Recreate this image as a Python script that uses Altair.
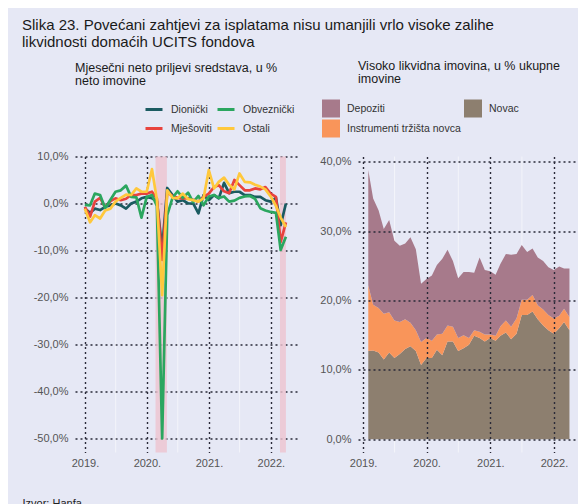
import altair as alt
import pandas as pd

FONT = "Liberation Sans"
BG = "#E6E8F5"

# ---------------- left panel: monthly net flows, % of net assets ----------------
flow_dates = pd.date_range("2018-12-31", periods=40, freq="ME")
dionicki = [-1.1, -2.0, -1.1, -1.4, -0.7, -0.4, 0.0, -0.4, -1.1, 0.0,
            0.4, 1.1, 1.4, 1.1, 0.5, -9.6, 3.3, 1.8, 0.4, 0.7,
            0.0, 0.0, -2.1, 1.8, 0.7, 1.8, 1.1, 4.4, 2.2, 2.5,
            2.5, 1.8, 1.8, 1.4, 1.4, 0.7, 0.4, 1.2, -4.6, 0.0]
obveznicki = [-0.3, -0.4, 2.1, 1.8, -1.0, 0.8, 2.5, 2.8, 3.8, 1.4,
              1.3, -3.0, 1.4, 1.8, -0.5, -50.0, -2.5, 1.2, 2.6, 1.2,
              2.3, 0.3, 1.6, -0.4, 1.5, 1.8, 1.2, 1.5, 0.4, 0.6,
              1.2, 1.5, 1.6, 1.0, -1.0, -1.5, -1.8, -2.0, -9.9, -7.1]
mjesoviti = [-0.7, -2.8, 0.4, 1.2, -0.8, 0.5, 1.1, 0.7, 1.0, 1.8,
             1.8, 2.1, 2.1, 2.5, 1.0, -12.0, 2.3, 1.6, 1.2, 1.1,
             1.1, 0.8, 0.4, 1.4, 2.1, 3.5, 3.9, 2.6, 2.2, 5.0,
             3.9, 2.8, 2.8, 3.2, 3.0, 3.5, 2.1, 1.4, -8.2, -4.0]
ostali = [-1.1, -4.0, -2.5, -3.2, -1.5, -1.1, 0.4, 1.2, 1.9, 1.8,
          3.2, 2.5, 2.5, 7.3, 0.8, -19.5, 2.8, 1.2, 1.1, 2.1,
          0.9, 0.7, 0.4, 1.1, 7.1, 3.2, 4.6, 5.5, 4.0, 3.0,
          6.4, 4.6, 4.5, 4.0, 3.6, 3.0, 1.5, -0.5, -3.0, -5.0]

flow_names = ["Dionički", "Obveznički", "Mješoviti", "Ostali"]
flow_colors = ["#1B5B61", "#2BA65F", "#E8433D", "#FFC83C"]
flow_series = {"Dionički": dionicki, "Mješoviti": mjesoviti,
               "Obveznički": obveznicki, "Ostali": ostali}  # drawing order

shade_start = ["2020-02-21", "2022-02-24"]
shade_end = ["2020-04-28", "2022-03-31"]
mid_years = ["2019-07-01", "2020-07-01", "2021-07-01"]

# ---------------- right panel: highly liquid assets, % of total assets ----------------
asset_dates = pd.date_range("2019-01-31", periods=39, freq="ME")
novac = [12.7, 12.8, 12.5, 11.5, 12.5, 11.7, 12.3, 13.0, 13.4, 12.7,
         10.7, 11.7, 11.7, 12.9, 12.1, 14.1, 14.1, 12.7, 13.1, 13.6,
         14.9, 14.6, 14.1, 14.6, 14.2, 14.9, 15.4, 14.4, 15.2, 17.9,
         17.9, 18.4, 17.3, 16.4, 15.7, 15.2, 16.0, 16.9, 15.7]
instrumenti = [9.5, 6.6, 6.4, 6.6, 5.8, 5.4, 4.6, 4.3, 3.4, 3.0,
               3.3, 2.9, 2.5, 2.2, 3.1, 2.3, 2.1, 1.9, 1.9, 1.0,
               0.8, 0.9, 1.0, 0.5, 0.7, 1.4, 1.7, 1.8, 2.2, 2.2,
               2.2, 2.4, 2.0, 2.3, 2.2, 2.2, 1.8, 1.9, 1.9]
depoziti = [16.6, 15.3, 14.1, 12.2, 13.3, 11.5, 11.0, 10.9, 12.3, 11.7,
            8.4, 8.5, 9.4, 10.0, 10.8, 10.9, 9.5, 8.6, 9.1, 9.5,
            8.3, 10.7, 9.3, 9.1, 8.8, 9.0, 9.6, 10.4, 9.3, 7.9,
            6.9, 6.7, 6.9, 7.0, 6.9, 7.0, 7.1, 5.8, 7.0]

asset_names = ["Depoziti", "Novac", "Instrumenti tržišta novca"]
asset_colors = ["#A77A8B", "#8D7F6F", "#F9955A"]
asset_stack = {"Novac": 0, "Instrumenti tržišta novca": 1, "Depoziti": 2}

title_lines = ["Slika 23. Povećani zahtjevi za isplatama nisu umanjili vrlo visoke zalihe",
               "likvidnosti domaćih UCITS fondova"]
left_title = ["Mjesečni neto priljevi sredstava, u %", "neto imovine"]
right_title = ["Visoko likvidna imovina, u % ukupne", "imovine"]
source_text = "Izvor: Hanfa"

# ---------------- tables ----------------
flows = pd.concat([pd.DataFrame({"date": flow_dates, "serija": name, "value": vals})
                   for name, vals in flow_series.items()], ignore_index=True)
shades = pd.DataFrame({"start": pd.to_datetime(shade_start), "end": pd.to_datetime(shade_end)})
mids = pd.DataFrame({"date": pd.to_datetime(mid_years)})
assets = pd.concat([pd.DataFrame({"date": asset_dates, "vrsta": name, "value": vals,
                                  "poredak": asset_stack[name]})
                    for name, vals in [("Novac", novac),
                                       ("Instrumenti tržišta novca", instrumenti),
                                       ("Depoziti", depoziti)]], ignore_index=True)

W_L, W_R, H = 225, 220, 296
year_ticks = [alt.DateTime(year=y, month=1, date=1) for y in [2019, 2020, 2021, 2022]]
pct_expr = "(datum.value < 0 ? '-' : '') + replace(format(abs(datum.value), '.1f'), '.', ',') + '%'"
GRID = dict(grid=True, gridDash=[2, 3], gridColor="#2A2A38", gridWidth=1.4,
            domain=False, ticks=False, labelFont=FONT, labelFontSize=11, labelColor="#555555")


def xaxis(**kw):
    return alt.Axis(values=year_ticks, format="%Y.", labelPadding=5, **GRID, **kw)


def yaxis(vals, **kw):
    return alt.Axis(values=vals, labelExpr=pct_expr, labelPadding=7, title=None, **GRID, **kw)


# left
xl_scale = alt.Scale(domain=[alt.DateTime(year=2018, month=11, date=3),
                             alt.DateTime(year=2022, month=6, date=22)])
yl_scale = alt.Scale(domain=[-53, 10], nice=False, zero=False)
xl_axis = xaxis(title=source_text, titleX=-53, titleY=51, titleAlign="left",
                titleBaseline="middle", titleFont=FONT, titleFontSize=11,
                titleFontWeight="normal", titleColor="#222222")
yl_axis = yaxis(list(range(-50, 11, 10)))

shade_layer = alt.Chart(shades).mark_rect(color="#EDC3D0", opacity=0.8).encode(
    x=alt.X("start:T", scale=xl_scale, axis=xl_axis), x2="end:T")
mid_layer_l = alt.Chart(mids).mark_rule(color="#FFFFFF", opacity=0.55, strokeWidth=1).encode(
    x=alt.X("date:T", scale=xl_scale, axis=xl_axis))
line_layer = alt.Chart(flows).mark_line(strokeWidth=2.7, strokeJoin="round").encode(
    x=alt.X("date:T", scale=xl_scale, axis=xl_axis),
    y=alt.Y("value:Q", scale=yl_scale, axis=yl_axis),
    color=alt.Color("serija:N",
                    scale=alt.Scale(domain=flow_names, range=flow_colors),
                    legend=alt.Legend(title=None, orient="none", legendX=69, legendY=-57,
                                      direction="horizontal",
                                      columns=2, symbolType="stroke", symbolStrokeWidth=3,
                                      symbolSize=289, labelFont=FONT, labelFontSize=10.5,
                                      labelColor="#333333", columnPadding=-1, rowPadding=3,
                                      labelOffset=7)),
)
left = alt.layer(mid_layer_l, shade_layer, line_layer).properties(
    width=W_L, height=H,
    title=alt.Title(text=left_title, anchor="start", frame="group", font=FONT, fontSize=12.5,
                    fontWeight="normal", color="#1A1A1A", offset=12, lineHeight=13.3))

# right
xr_scale = alt.Scale(domain=[alt.DateTime(year=2018, month=12, date=3),
                             alt.DateTime(year=2022, month=5, date=19)])
yr_scale = alt.Scale(domain=[-1.92, 40.76], nice=False, zero=False)
xr_axis = xaxis(title=None, zindex=1)
yr_axis = yaxis([0, 10, 20, 30, 40], zindex=1)

mid_layer_r = alt.Chart(mids).mark_rule(color="#FFFFFF", opacity=0.55, strokeWidth=1).encode(
    x=alt.X("date:T", scale=xr_scale, axis=xr_axis))
area_layer = alt.Chart(assets).mark_area(opacity=1, interpolate="linear").encode(
    x=alt.X("date:T", scale=xr_scale, axis=xr_axis),
    y=alt.Y("value:Q", stack="zero", scale=yr_scale, axis=yr_axis),
    order=alt.Order("poredak:Q", sort="ascending"),
    color=alt.Color("vrsta:N",
                    scale=alt.Scale(domain=asset_names, range=asset_colors),
                    legend=alt.Legend(title=None, orient="none", legendX=-36, legendY=-57,
                                      direction="horizontal",
                                      columns=2, symbolType="square", symbolSize=324,
                                      symbolStrokeWidth=0, symbolOpacity=1,
                                      labelFont=FONT, labelFontSize=10.5, labelColor="#333333",
                                      columnPadding=3, rowPadding=2, labelOffset=7)),
)
right = alt.layer(mid_layer_r, area_layer).properties(
    width=W_R, height=H,
    title=alt.Title(text=right_title, anchor="start", frame="group", font=FONT, fontSize=12.5,
                    fontWeight="normal", color="#1A1A1A", offset=14, lineHeight=13.3))

chart = alt.hconcat(left, right, spacing=58, bounds="flush").resolve_scale(
    color="independent", x="independent", y="independent"
).properties(
    title=alt.Title(text=title_lines, anchor="start", font=FONT, fontSize=15,
                    fontWeight="normal", color="#1A1A1A", offset=9.5, lineHeight=17),
    background=BG,
    padding={"left": 14, "top": 9.5, "right": 0, "bottom": 0},
).configure_view(strokeWidth=0)

chart.save("out.html", embed_options={"renderer": "svg", "actions": False})
